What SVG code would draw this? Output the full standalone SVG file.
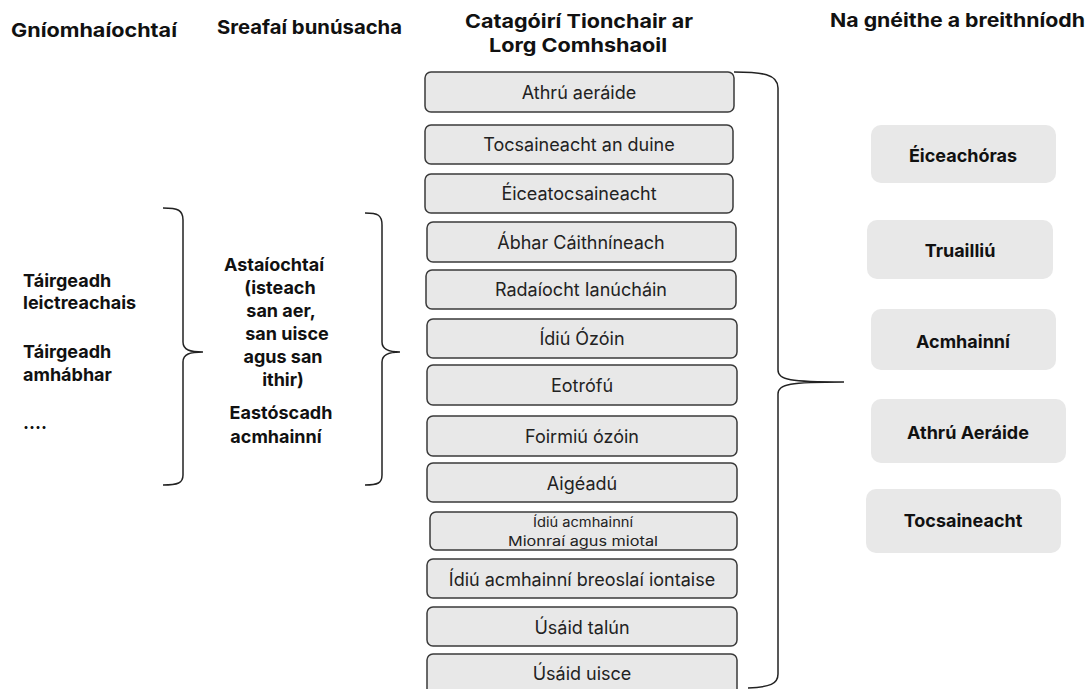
<svg xmlns="http://www.w3.org/2000/svg" width="1091" height="689" viewBox="0 0 1091 689">
<style>
.h{font-family:Inter,"Liberation Sans",sans-serif;font-weight:700;font-size:19px;fill:#111}
.b{font-family:Inter,"Liberation Sans",sans-serif;font-weight:700;font-size:18px;fill:#111}
.cat rect{fill:#e8e8e8;stroke:#3a3a3a;stroke-width:1.5}
.ct{font-family:Inter,"Liberation Sans",sans-serif;font-size:18px;fill:#222;text-anchor:middle;dominant-baseline:central}
.cs{font-family:Inter,"Liberation Sans",sans-serif;font-size:13px;fill:#222;text-anchor:middle;dominant-baseline:central}
.asp rect{fill:#e8e8e8;stroke:none}
.at{font-family:Inter,"Liberation Sans",sans-serif;font-weight:700;font-size:18px;fill:#111;text-anchor:middle;dominant-baseline:central}
.br{fill:none;stroke:#222;stroke-width:1.5}
</style>
<rect width="1091" height="689" fill="#fff"/>
<g id="headers">
<text class="h" x="11" y="37" textLength="166" lengthAdjust="spacingAndGlyphs">Gníomhaíochtaí</text>
<text class="h" x="217" y="34" textLength="185" lengthAdjust="spacingAndGlyphs">Sreafaí bunúsacha</text>
<text class="h" x="465" y="28" textLength="228" lengthAdjust="spacingAndGlyphs">Catagóirí Tionchair ar</text>
<text class="h" x="489" y="52" textLength="178" lengthAdjust="spacingAndGlyphs">Lorg Comhshaoil</text>
<text class="h" x="830" y="27" textLength="255" lengthAdjust="spacingAndGlyphs">Na gnéithe a breithníodh</text>
</g>
<g id="activities">
<text class="b" x="23" y="287">Táirgeadh</text>
<text class="b" x="23" y="309">leictreachais</text>
<text class="b" x="23" y="358">Táirgeadh</text>
<text class="b" x="23" y="381">amhábhar</text>
<text class="b" x="23" y="429">....</text>
</g>
<g id="flows">
<text class="b" x="274" y="271" text-anchor="middle">Astaíochtaí</text>
<text class="b" x="280" y="294" text-anchor="middle">(isteach</text>
<text class="b" x="281" y="317" text-anchor="middle">san aer,</text>
<text class="b" x="287" y="340" text-anchor="middle">san uisce</text>
<text class="b" x="283" y="363" text-anchor="middle">agus san</text>
<text class="b" x="283" y="386" text-anchor="middle">ithir)</text>
<text class="b" x="281" y="419" text-anchor="middle">Eastóscadh</text>
<text class="b" x="276" y="443" text-anchor="middle">acmhainní</text>
</g>
<g id="categories" class="cat">
<g id="c1"><rect x="425" y="72" width="309" height="40" rx="6"/><text class="ct" x="579" y="92">Athrú aeráide</text></g>
<g id="c2"><rect x="425" y="125" width="308" height="39" rx="6"/><text class="ct" x="579" y="144">Tocsaineacht an duine</text></g>
<g id="c3"><rect x="425" y="174" width="308" height="39" rx="6"/><text class="ct" x="579" y="193">Éiceatocsaineacht</text></g>
<g id="c4"><rect x="427" y="222" width="309" height="40" rx="6"/><text class="ct" x="581" y="242">Ábhar Cáithníneach</text></g>
<g id="c5"><rect x="426" y="270" width="310" height="39" rx="6"/><text class="ct" x="581" y="289">Radaíocht Ianúcháin</text></g>
<g id="c6"><rect x="427" y="319" width="310" height="39" rx="6"/><text class="ct" x="582" y="338">Ídiú Ózóin</text></g>
<g id="c7"><rect x="427" y="365" width="310" height="40" rx="6"/><text class="ct" x="582" y="385">Eotrófú</text></g>
<g id="c8"><rect x="427" y="416" width="310" height="40" rx="6"/><text class="ct" x="582" y="436">Foirmiú ózóin</text></g>
<g id="c9"><rect x="427" y="463" width="310" height="39" rx="6"/><text class="ct" x="582" y="483">Aigéadú</text></g>
<g id="c10"><rect x="430" y="512" width="307" height="38" rx="6"/><text class="cs" x="583" y="522" textLength="100" lengthAdjust="spacingAndGlyphs">Ídiú acmhainní</text><text class="cs" x="583" y="541" textLength="150" lengthAdjust="spacingAndGlyphs">Mionraí agus miotal</text></g>
<g id="c11"><rect x="427" y="559" width="310" height="39" rx="6"/><text class="ct" x="582" y="579">Ídiú acmhainní breoslaí iontaise</text></g>
<g id="c12"><rect x="427" y="607" width="310" height="39" rx="6"/><text class="ct" x="582" y="627">Úsáid talún</text></g>
<g id="c13"><rect x="427" y="654" width="310" height="42" rx="6"/><text class="ct" x="582" y="673">Úsáid uisce</text></g>
</g>
<g id="aspects" class="asp">
<g id="a1"><rect x="871" y="125" width="185" height="58" rx="10"/><text class="at" x="963" y="155">Éiceachóras</text></g>
<g id="a2"><rect x="867" y="220" width="186" height="59" rx="10"/><text class="at" x="960" y="250">Truailliú</text></g>
<g id="a3"><rect x="871" y="309" width="185" height="61" rx="10"/><text class="at" x="963" y="341">Acmhainní</text></g>
<g id="a4"><rect x="871" y="399" width="195" height="64" rx="10"/><text class="at" x="968" y="432">Athrú Aeráide</text></g>
<g id="a5"><rect x="866" y="489" width="195" height="64" rx="10"/><text class="at" x="963" y="520">Tocsaineacht</text></g>
</g>
<g id="connectors" class="br">
<path d="M163,208 C178,208 183,210 183,220 L183,342 C183,350 190,352 203,352 C190,352 183,354 183,362 L183,475 C183,483 178,485 163,485"/>
<path d="M365,213 C378,213 382,215 382,225 L382,342 C382,350 390,352 400,352 C390,352 382,354 382,362 L382,475 C382,483 378,485 365,485"/>
<path d="M734,72 C762,72 778,74 778,88 L778,370 C778,380 790,382 844,382 C790,382 778,384 778,394 L778,674 C778,684 770,687 748,688"/>
</g>
</svg>
